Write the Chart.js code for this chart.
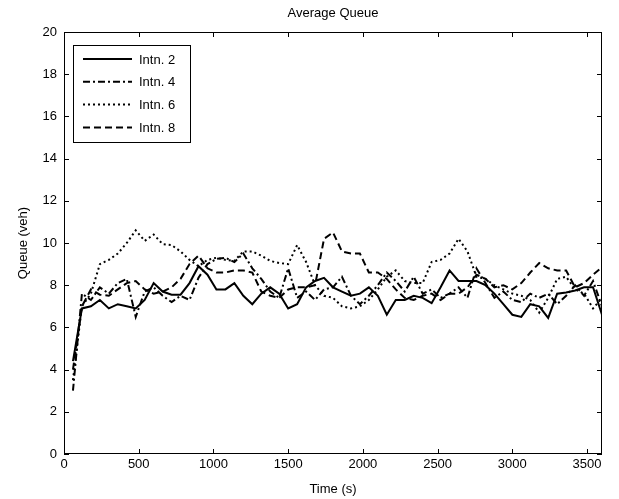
<!DOCTYPE html>
<html lang="en">
<head>
    <meta charset="UTF-8">
    <title>Average Queue</title>
    <script src="https://cdn.jsdelivr.net/npm/chart.js"></script>
    <style>
        body { margin: 0; background: #fff; }
        canvas { display: block; }
    </style>
</head>
<body>
    <canvas id="queueChart" width="619" height="499"></canvas>

    <script>
        // time stamps (s), one sample every 60 s
        const times = [];
        for (let t = 60; t <= 3600; t += 60) times.push(t);

        // tick positions
        const xTicks = [0, 500, 1000, 1500, 2000, 2500, 3000, 3500];
        const yTicks = [0, 2, 4, 6, 8, 10, 12, 14, 16, 18, 20];

        // average queue (veh)
        const intn2 = [4.4, 6.9, 7.0, 7.3, 6.9, 7.1, 7.0, 6.9, 7.3, 8.1,
                       7.7, 7.55, 7.55, 8.1, 8.9, 8.5, 7.8, 7.8, 8.1, 7.5,
                       7.1, 7.6, 7.9, 7.6, 6.9, 7.1, 7.9, 8.2, 8.35, 7.9,
                       7.7, 7.5, 7.6, 7.9, 7.5, 6.6, 7.3, 7.3, 7.5, 7.4,
                       7.15, 7.9, 8.7, 8.2, 8.2, 8.2, 8.0, 7.6, 7.1, 6.6,
                       6.5, 7.1, 7.0, 6.45, 7.6, 7.65, 7.75, 7.9, 7.9, 6.6];
        const intn4 = [3.0, 7.6, 7.3, 7.9, 7.6, 8.1, 8.3, 6.5, 7.7, 7.9,
                       7.5, 7.2, 7.5, 7.3, 8.35, 9.0, 9.25, 9.3, 9.1, 9.5,
                       8.8, 8.3, 7.7, 7.4, 8.8, 7.4, 7.7, 7.3, 7.8, 7.9,
                       8.4, 7.5, 7.1, 7.5, 8.0, 8.6, 8.2, 7.7, 8.4, 7.6,
                       7.8, 7.4, 7.6, 7.9, 7.4, 8.8, 8.1, 7.4, 7.7, 7.3,
                       7.2, 7.6, 7.4, 7.6, 7.1, 7.5, 8.0, 7.5, 8.2, 7.0];
        const intn6 = [3.5, 7.0, 7.6, 9.0, 9.2, 9.5, 10.0, 10.6, 10.1, 10.4,
                       9.95, 9.9, 9.6, 9.2, 8.9, 9.2, 9.3, 9.2, 9.15, 9.6,
                       9.6, 9.4, 9.15, 9.05, 9.0, 9.9, 9.1, 8.0, 7.5, 7.4,
                       7.0, 6.9, 7.0, 7.3, 7.8, 8.4, 8.7, 8.2, 8.1, 8.1,
                       9.1, 9.2, 9.5, 10.2, 9.6, 8.4, 8.3, 8.0, 7.8, 7.6,
                       7.5, 7.3, 6.7, 7.4, 8.3, 8.4, 7.8, 7.6, 6.9, 7.4];
        const intn8 = [4.0, 7.0, 7.8, 7.55, 7.5, 7.8, 8.1, 8.2, 7.8, 7.6,
                       7.7, 7.9, 8.3, 9.0, 9.4, 8.8, 8.6, 8.6, 8.7, 8.7,
                       8.6, 7.7, 7.5, 7.4, 7.8, 7.9, 7.9, 8.0, 10.2, 10.5,
                       9.6, 9.5, 9.5, 8.6, 8.6, 8.3, 7.8, 7.4, 7.3, 7.5,
                       7.6, 7.3, 7.6, 7.6, 7.9, 8.5, 8.3, 7.9, 8.0, 7.8,
                       8.1, 8.6, 9.05, 8.8, 8.7, 8.7, 7.9, 8.1, 8.5, 8.85];

        const seriesNames = ['Intn. 2', 'Intn. 4', 'Intn. 6', 'Intn. 8'];
        const seriesValues = [intn2, intn4, intn6, intn8];
        const dashes = [[], [7, 3, 2, 3], [2, 3], [7, 4]];

        const font = { family: '"Liberation Sans", Arial, sans-serif', size: 13 };

        // box, inward ticks and legend drawn like a MATLAB axes
        const matlabAxes = {
            id: 'matlabAxes',
            afterDraw(chart) {
                const ctx = chart.ctx;
                const a = chart.chartArea;
                const xs = chart.scales.x, ys = chart.scales.y;
                ctx.save();
                ctx.strokeStyle = '#000';
                ctx.lineWidth = 1;
                ctx.setLineDash([]);
                ctx.strokeRect(a.left + 0.5, a.top + 0.5, a.right - a.left - 1, a.bottom - a.top - 1);
                ctx.beginPath();
                xs.ticks.forEach(t => {
                    const px = Math.round(xs.getPixelForValue(t.value)) + 0.5;
                    ctx.moveTo(px, a.bottom); ctx.lineTo(px, a.bottom - 5);
                    ctx.moveTo(px, a.top); ctx.lineTo(px, a.top + 5);
                });
                ys.ticks.forEach(t => {
                    const py = Math.round(ys.getPixelForValue(t.value)) + 0.5;
                    ctx.moveTo(a.left, py); ctx.lineTo(a.left + 5, py);
                    ctx.moveTo(a.right, py); ctx.lineTo(a.right - 5, py);
                });
                ctx.stroke();

                // legend
                const bx = a.left + 9, by = a.top + 13, bw = 117, bh = 97;
                ctx.fillStyle = '#fff';
                ctx.fillRect(bx, by, bw, bh);
                ctx.strokeRect(bx + 0.5, by + 0.5, bw, bh);
                ctx.font = font.size + 'px ' + font.family;
                ctx.textBaseline = 'middle';
                chart.data.datasets.forEach((ds, i) => {
                    const y = by + 14 + i * 22.8;
                    ctx.beginPath();
                    ctx.lineWidth = 2;
                    ctx.setLineDash(ds.borderDash);
                    ctx.moveTo(bx + 10, y);
                    ctx.lineTo(bx + 59, y);
                    ctx.stroke();
                    ctx.fillStyle = '#000';
                    ctx.fillText(ds.label, bx + 66, y + 1);
                });
                ctx.restore();
            }
        };

        const ctx = document.getElementById('queueChart').getContext('2d');
        new Chart(ctx, {
            type: 'line',
            data: {
                datasets: seriesNames.map((name, i) => ({
                    label: name,
                    data: times.map((t, k) => ({ x: t, y: seriesValues[i][k] })),
                    borderColor: '#000',
                    borderWidth: 2,
                    borderDash: dashes[i],
                    pointRadius: 0,
                    tension: 0,
                    fill: false
                }))
            },
            options: {
                responsive: false,
                animation: false,
                layout: { padding: { top: 0, right: 17, left: 0, bottom: 0 } },
                plugins: {
                    legend: { display: false },
                    tooltip: { enabled: false },
                    title: {
                        display: true,
                        text: 'Average Queue',
                        color: '#000',
                        font: { ...font, weight: 'normal' },
                        fullSize: false,
                        padding: { top: 6, bottom: 10.4 }
                    }
                },
                scales: {
                    x: {
                        type: 'linear',
                        min: 0,
                        max: 3600,
                        grid: { display: false, drawTicks: false },
                        border: { display: false },
                        afterBuildTicks: s => { s.ticks = xTicks.map(v => ({ value: v })); },
                        ticks: { color: '#000', font: font, padding: 3, maxRotation: 0, autoSkip: false, callback: v => String(v) },
                        title: { display: true, text: 'Time (s)', color: '#000', font: font, padding: { top: 4, bottom: 2 } },
                        afterFit: s => { s.height = 45; }
                    },
                    y: {
                        min: 0,
                        max: 20,
                        grid: { display: false, drawTicks: false },
                        border: { display: false },
                        afterBuildTicks: s => { s.ticks = yTicks.map(v => ({ value: v })); },
                        ticks: { color: '#000', font: font, padding: 7, autoSkip: false, callback: v => String(v) },
                        title: { display: true, text: 'Queue (veh)', color: '#000', font: font, padding: { top: 16, bottom: 4 } },
                        afterFit: s => { s.width = 64; }
                    }
                }
            },
            plugins: [matlabAxes]
        });
    </script>
</body>
</html>
